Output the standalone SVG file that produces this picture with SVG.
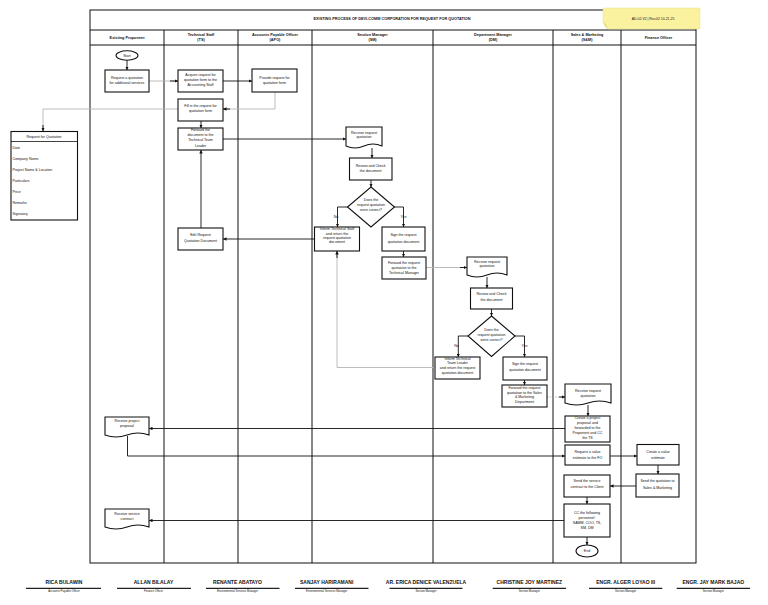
<svg xmlns="http://www.w3.org/2000/svg" width="768" height="605" viewBox="0 0 768 605">
<style>
text{font-family:"Liberation Sans",Arial,sans-serif;fill:#111}
.t{font-size:3.6px;text-anchor:middle}
.h{font-size:3.8px;font-weight:bold;text-anchor:middle}
.l{font-size:3.6px;text-anchor:start}
.box{fill:#fff;stroke:#111;stroke-width:1.1}
.lane{stroke:#111;stroke-width:1;fill:none}
.c{fill:none;stroke:#111;stroke-width:0.9}
.g{fill:none;stroke:#b4b4b4;stroke-width:0.9}
.gd{fill:none;stroke:#999;stroke-width:0.7;stroke-dasharray:1.5 1.2}
.nm{font-size:5px;font-weight:bold;text-anchor:middle}
.ti{font-size:2.8px;text-anchor:middle}
.sig{stroke:#222;stroke-width:1.2}
</style>
<defs>
<marker id="a" viewBox="0 0 6 6" refX="6" refY="3" markerWidth="3.5" markerHeight="3.5" markerUnits="userSpaceOnUse" orient="auto"><path d="M0 0L6 3L0 6Z" fill="#111"/></marker>
</defs>
<rect width="768" height="605" fill="#fff"/>
<g id="frame">
<rect x="90" y="10" width="606" height="553" class="lane"/>
<line x1="90" y1="30" x2="696" y2="30" class="lane"/>
<line x1="90" y1="45" x2="696" y2="45" class="lane"/>
<line x1="164" y1="30" x2="164" y2="563" class="lane"/>
<line x1="238" y1="30" x2="238" y2="563" class="lane"/>
<line x1="312" y1="30" x2="312" y2="563" class="lane"/>
<line x1="433" y1="30" x2="433" y2="563" class="lane"/>
<line x1="553" y1="30" x2="553" y2="563" class="lane"/>
<line x1="621" y1="30" x2="621" y2="563" class="lane"/>
<text x="392" y="19.5" class="h">EXISTING PROCESS OF DEVI-COMM CORPORATION FOR REQUEST FOR QUOTATION</text>
<path d="M603 8H700V29H608Q604 27 603 22Z" fill="#fbf2a0" stroke="#e8dc80" stroke-width="0.4"/>
<path d="M603 22Q605 26 608 29L606 24Z" fill="#e6da86"/>
<text x="653" y="19.5" class="t" style="font-size:3.4px">AD-02-V2 | Rev.02 10-21-25</text>
<text x="127" y="39" class="h">Existing Proponent</text>
<text x="201" y="36" class="h">Technical Staff</text><text x="201" y="41" class="h">(TS)</text>
<text x="275" y="36" class="h">Accounts Payable Officer</text><text x="275" y="41" class="h">(APO)</text>
<text x="372.5" y="36" class="h">Section Manager</text><text x="372.5" y="41" class="h">(SM)</text>
<text x="493" y="36" class="h">Department Manager</text><text x="493" y="41" class="h">(DM)</text>
<text x="587" y="36" class="h">Sales &amp; Marketing</text><text x="587" y="41" class="h">(S&amp;M)</text>
<text x="658.5" y="39" class="h">Finance Officer</text>
</g>
<g id="connectors">
<path d="M127 60V70" class="c" marker-end="url(#a)"/>
<path d="M149 81H178" class="g"/><path d="M170 81H178" class="c" marker-end="url(#a)"/>
<path d="M223 81H252" class="c" marker-end="url(#a)"/>
<path d="M275 92V109H223" class="g"/><path d="M230 109H223" class="c" marker-end="url(#a)"/>
<path d="M178 109H43V131" class="g"/><path d="M43 125V131" class="c" marker-end="url(#a)"/>
<path d="M201 121V128" class="c" marker-end="url(#a)"/>
<path d="M223 139H346" class="c" marker-end="url(#a)"/>
<path d="M372 148V158" class="c" marker-end="url(#a)"/>
<path d="M371 180V187" class="c" marker-end="url(#a)"/>
<path d="M348 207H337.5V227" class="c" marker-end="url(#a)"/>
<path d="M394 207H403.5V227" class="c" marker-end="url(#a)"/>
<path d="M314 239H223" class="c" marker-end="url(#a)"/>
<path d="M201 228V150" class="c" marker-end="url(#a)"/>
<path d="M403.5 251V257" class="c" marker-end="url(#a)"/>
<path d="M426 267.5H467" class="g"/><path d="M460 267.5H467" class="c" marker-end="url(#a)"/>
<path d="M487 277V288" class="c" marker-end="url(#a)"/>
<path d="M491.5 309V316" class="c" marker-end="url(#a)"/>
<path d="M468 336H458.3V357" class="c" marker-end="url(#a)"/>
<path d="M515 336H524.5V357" class="c" marker-end="url(#a)"/>
<path d="M435 367.5H337V251" class="g"/><path d="M337 258V251" class="c" marker-end="url(#a)"/>
<path d="M524.5 380V385" class="c" marker-end="url(#a)"/>
<path d="M547 397H565" class="gd"/><path d="M559 397H565" class="c" marker-end="url(#a)"/>
<path d="M588 405V416" class="c" marker-end="url(#a)"/>
<path d="M565 428.5H149" class="c" marker-end="url(#a)"/>
<path d="M127.5 436V456H565" class="c" marker-end="url(#a)"/>
<path d="M610 456H637" class="c" marker-end="url(#a)"/>
<path d="M658 465V474" class="c" marker-end="url(#a)"/>
<path d="M636 486H610" class="c" marker-end="url(#a)"/>
<path d="M587 497V504" class="c" marker-end="url(#a)"/>
<path d="M564 520.5H149" class="c" marker-end="url(#a)"/>
<path d="M587 537V545" class="c" marker-end="url(#a)"/>
</g>
<g id="start"><ellipse cx="127" cy="55.5" rx="11" ry="4.7" class="box"/><text x="127" y="56.8" class="t">Start</text></g>
<g id="ep-request"><rect x="105" y="70" width="44" height="22" class="box"/><text x="127" y="79" class="t">Request a quotation</text><text x="127" y="83.6" class="t">for additional services</text></g>
<g id="rfq"><rect x="11" y="131.5" width="66.5" height="88.5" class="box"/><line x1="11" y1="141.5" x2="77.5" y2="141.5" stroke="#111" stroke-width="0.8"/>
<text x="44" y="137.8" class="t">Request for Quotation</text>
<text x="12.5" y="149" class="l">Date</text><text x="12.5" y="159.6" class="l">Company Name</text><text x="12.5" y="170.6" class="l">Project Name &amp; Location</text><text x="12.5" y="181.6" class="l">Particulars</text><text x="12.5" y="193" class="l">Price</text><text x="12.5" y="204.3" class="l">Remarks</text><text x="12.5" y="215" class="l">Signatory</text></g>
<g id="ts-acquire"><rect x="178" y="70" width="45" height="22" class="box"/><text x="200.5" y="75.6" class="t">Acquire request for</text><text x="200.5" y="80.6" class="t">quotation form to the</text><text x="200.5" y="85.6" class="t">Accounting Staff</text></g>
<g id="apo-provide"><rect x="252" y="69" width="45" height="23" class="box"/><text x="274.5" y="78.5" class="t">Provide request for</text><text x="274.5" y="83.5" class="t">quotation form</text></g>
<g id="ts-fill"><rect x="178" y="99" width="45" height="22" class="box"/><text x="200.5" y="107" class="t">Fill in the request for</text><text x="200.5" y="112" class="t">quotation form</text></g>
<g id="ts-forward"><rect x="178" y="128" width="45" height="22" class="box"/><text x="200.5" y="131.4" class="t">Forward the</text><text x="200.5" y="136.4" class="t">document to the</text><text x="200.5" y="141.4" class="t">Technical Team</text><text x="200.5" y="146.5" class="t">Leader</text></g>
<g id="ts-edit"><rect x="178" y="228" width="45" height="22" class="box"/><text x="200.5" y="235.6" class="t">Edit Request</text><text x="200.5" y="242" class="t">Quotation Document</text></g>
<g id="sm-receive"><path d="M346 127H382V146Q373 142 364 146T346 146Z" class="box" stroke-width="0.6"/><text x="364" y="133.5" class="t">Receive request</text><text x="364" y="138" class="t">quotation</text></g>
<g id="sm-review"><rect x="349.5" y="158" width="42.5" height="22" class="box"/><text x="370.7" y="167" class="t">Review and Check</text><text x="370.7" y="172" class="t">the document</text></g>
<g id="sm-decision"><path d="M371 187L394.5 207L371 227L347.5 207Z" class="box" stroke-width="0.8"/><text x="371" y="201.4" class="t">Does the</text><text x="371" y="206.4" class="t">request quotation</text><text x="371" y="211.4" class="t">were correct?</text><text x="336" y="218" class="t">No</text><text x="403.5" y="218" class="t">Yes</text></g>
<g id="sm-inform"><rect x="314.5" y="227" width="45" height="24" class="box"/><text x="337" y="230.4" class="t">Inform Technical Staff</text><text x="337" y="234.7" class="t">and return the</text><text x="337" y="239" class="t">request quotation</text><text x="337" y="243.3" class="t">document</text></g>
<g id="sm-sign"><rect x="382" y="227" width="43" height="24" class="box"/><text x="403.5" y="236.4" class="t">Sign the request</text><text x="403.5" y="243" class="t">quotation document</text></g>
<g id="sm-forward"><rect x="382" y="257" width="44" height="22" class="box"/><text x="404" y="263.5" class="t">Forward the request</text><text x="404" y="269" class="t">quotation to the</text><text x="404" y="274.3" class="t">Technical Manager</text></g>
<g id="dm-receive"><path d="M467 257H507V275Q497 271 487 275T467 275Z" class="box" stroke-width="0.6"/><text x="487" y="263" class="t">Receive request</text><text x="487" y="267.4" class="t">quotation</text></g>
<g id="dm-review"><rect x="470.5" y="288" width="42" height="21" class="box"/><text x="491.5" y="295.4" class="t">Review and Check</text><text x="491.5" y="300.6" class="t">the document</text></g>
<g id="dm-decision"><path d="M491.5 316L515 336L491.5 356.5L468 336Z" class="box" stroke-width="0.8"/><text x="491.5" y="330.6" class="t">Does the</text><text x="491.5" y="335.6" class="t">request quotation</text><text x="491.5" y="341" class="t">were correct?</text><text x="456.5" y="347" class="t">No</text><text x="524.5" y="347" class="t">Yes</text></g>
<g id="dm-inform"><rect x="435" y="357" width="45" height="22" class="box"/><text x="457.5" y="359.6" class="t">Inform Technical</text><text x="457.5" y="364.3" class="t">Team Leader</text><text x="457.5" y="369" class="t">and return the request</text><text x="457.5" y="374.3" class="t">quotation document</text></g>
<g id="dm-sign"><rect x="503" y="357" width="44" height="23" class="box"/><text x="525" y="364.6" class="t">Sign the request</text><text x="525" y="371.3" class="t">quotation document</text></g>
<g id="dm-forward"><rect x="502" y="385" width="45" height="22" class="box"/><text x="524.5" y="389" class="t">Forward the request</text><text x="524.5" y="393.6" class="t">quotation to the Sales</text><text x="524.5" y="398.2" class="t">&amp; Marketing</text><text x="524.5" y="403" class="t">Department</text></g>
<g id="sm2-receive"><path d="M565 384H611V403Q599.5 399 588 403T565 403Z" class="box" stroke-width="0.6"/><text x="588" y="392.3" class="t">Receive request</text><text x="588" y="397" class="t">quotation</text></g>
<g id="sam-create"><rect x="565" y="416" width="45" height="26" class="box"/><text x="587.5" y="419" class="t">Create a project</text><text x="587.5" y="424" class="t">proposal and</text><text x="587.5" y="429" class="t">forwarded to the</text><text x="587.5" y="434" class="t">Proponent and CC</text><text x="587.5" y="438.6" class="t">the TS</text></g>
<g id="sam-request"><rect x="565" y="445" width="45" height="20" class="box"/><text x="587.5" y="453" class="t">Request a value</text><text x="587.5" y="458.6" class="t">estimate to the FO</text></g>
<g id="fo-create"><rect x="637" y="444.5" width="42" height="20.5" class="box"/><text x="658" y="453" class="t">Create a value</text><text x="658" y="459" class="t">estimate</text></g>
<g id="fo-send"><rect x="636" y="474" width="43" height="23" class="box"/><text x="657.5" y="482.3" class="t">Send the quotation to</text><text x="657.5" y="489" class="t">Sales &amp; Marketing</text></g>
<g id="sam-send"><rect x="564" y="475" width="46" height="22" class="box"/><text x="587" y="482" class="t">Send the service</text><text x="587" y="488" class="t">contract to the Client</text></g>
<g id="sam-cc"><rect x="564" y="504" width="46" height="33" class="box"/><text x="587" y="513.6" class="t">CC the following</text><text x="587" y="518.6" class="t">personnel:</text><text x="587" y="523.6" class="t">SAMM, COO, TS,</text><text x="587" y="528.6" class="t">SM, DM</text></g>
<g id="end"><ellipse cx="587" cy="551" rx="11" ry="6" class="box"/><text x="587" y="552.3" class="t">End</text></g>
<g id="ep-proposal"><path d="M105 417H149V435Q138 431 127 435T105 435Z" class="box" stroke-width="0.6"/><text x="127" y="422.3" class="t">Receive project</text><text x="127" y="427.3" class="t">proposal</text></g>
<g id="ep-contract"><path d="M105 509H149V527Q138 523 127 527T105 527Z" class="box" stroke-width="0.6"/><text x="127" y="514.6" class="t">Receive service</text><text x="127" y="519.6" class="t">contract</text></g>
<g id="signatures">
<text x="64" y="584" class="nm">RICA BULAWIN</text><line x1="26" y1="588.3" x2="101" y2="588.3" class="sig"/><text x="64" y="592" class="ti">Accounts Payable Officer</text>
<text x="153.5" y="584" class="nm">ALLAN BILALAY</text><line x1="117" y1="588.3" x2="191" y2="588.3" class="sig"/><text x="153.5" y="592" class="ti">Finance Officer</text>
<text x="237.5" y="584" class="nm">RENANTE ABATAYO</text><line x1="206" y1="588.3" x2="279.5" y2="588.3" class="sig"/><text x="237.5" y="592" class="ti">Environmental Services Manager</text>
<text x="326.7" y="584" class="nm">SANJAY HARIRAMANI</text><line x1="295" y1="588.3" x2="368.5" y2="588.3" class="sig"/><text x="326.7" y="592" class="ti">Environmental Services Manager</text>
<text x="426" y="584" class="nm">AR. ERICA DENICE VALENZUELA</text><line x1="389.5" y1="588.3" x2="462.5" y2="588.3" class="sig"/><text x="426" y="592" class="ti">Section Manager</text>
<text x="529.3" y="584" class="nm">CHRISTINE JOY MARTINEZ</text><line x1="492.7" y1="588.3" x2="566" y2="588.3" class="sig"/><text x="529.3" y="592" class="ti">Section Manager</text>
<text x="625.7" y="584" class="nm">ENGR. ALGER LOYAO III</text><line x1="589" y1="588.3" x2="662.3" y2="588.3" class="sig"/><text x="625.7" y="592" class="ti">Section Manager</text>
<text x="713.3" y="584" class="nm">ENGR. JAY MARK BAJAO</text><line x1="676.7" y1="588.3" x2="750" y2="588.3" class="sig"/><text x="713.3" y="592" class="ti">Section Manager</text>
</g>
</svg>
